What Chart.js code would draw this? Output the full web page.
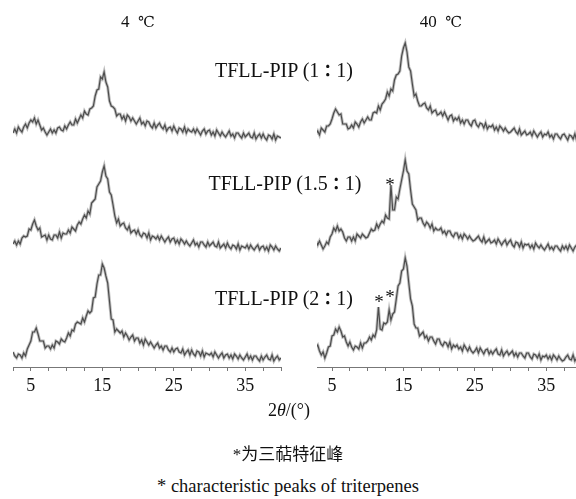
<!DOCTYPE html>
<html>
<head>
<meta charset="utf-8">
<script src="https://cdn.jsdelivr.net/npm/chart.js@4.4.0/dist/chart.umd.min.js"></script>
<style>
  html, body { margin: 0; padding: 0; background: #fff; }
  body { width: 576px; height: 499px; position: relative; overflow: hidden;
         font-family: "Liberation Serif", "DejaVu Serif", "Noto Sans CJK SC", serif; color: #111; }
  canvas { position: absolute; top: 0; }
  .t { position: absolute; transform: translate(-50%, -50%); white-space: nowrap; line-height: 1.15; }
  .deg { font-family: "DejaVu Serif", serif; font-size: 15px; }
  .col { font-family: "Noto Sans CJK JP", "Noto Sans CJK TC", sans-serif; font-weight: bold; font-size: 17px; }
</style>
</head>
<body>
<canvas id="c4" width="292" height="400" style="left:0"></canvas>
<canvas id="c40" width="290" height="400" style="left:305px"></canvas>

<div class="t" style="left:138px;top:22px;font-size:17px">4&nbsp;&nbsp;<span class="deg">℃</span></div>
<div class="t" style="left:441px;top:22px;font-size:17px">40&nbsp;&nbsp;<span class="deg">℃</span></div>
<div class="t" style="left:284px;top:70px;font-size:20px">TFLL-PIP (1<span class="col">：</span>1)</div>
<div class="t" style="left:285px;top:183px;font-size:20px">TFLL-PIP (1.5<span class="col">：</span>1)</div>
<div class="t" style="left:284px;top:298px;font-size:20px">TFLL-PIP (2<span class="col">：</span>1)</div>
<div class="t" style="left:390px;top:185px;font-size:19px">*</div>
<div class="t" style="left:379px;top:302px;font-size:19px">*</div>
<div class="t" style="left:390px;top:297px;font-size:19px">*</div>
<div class="t" style="left:289px;top:410px;font-size:18px">2<i>θ</i>/(°)</div>
<div class="t" style="left:288px;top:455px;font-size:17px">*为三萜特征峰</div>
<div class="t" style="left:288px;top:487px;font-size:18.5px">* characteristic peaks of triterpenes</div>

<script>
// 2θ (°) sampling grid
const twoTheta = [
  2.5,2.75,3,3.25,3.5,3.75,4,4.25,4.5,4.75,
  5,5.25,5.5,5.75,6,6.25,6.5,6.75,7,7.25,
  7.5,7.75,8,8.25,8.5,8.75,9,9.25,9.5,9.75,
  10,10.25,10.5,10.75,11,11.25,11.5,11.75,12,12.25,
  12.5,12.75,13,13.25,13.5,13.75,14,14.25,14.5,14.75,
  15,15.25,15.5,15.75,16,16.25,16.5,16.75,17,17.25,
  17.5,17.75,18,18.25,18.5,18.75,19,19.25,19.5,19.75,
  20,20.25,20.5,20.75,21,21.25,21.5,21.75,22,22.25,
  22.5,22.75,23,23.25,23.5,23.75,24,24.25,24.5,24.75,
  25,25.25,25.5,25.75,26,26.25,26.5,26.75,27,27.25,
  27.5,27.75,28,28.25,28.5,28.75,29,29.25,29.5,29.75,
  30,30.25,30.5,30.75,31,31.25,31.5,31.75,32,32.25,
  32.5,32.75,33,33.25,33.5,33.75,34,34.25,34.5,34.75,
  35,35.25,35.5,35.75,36,36.25,36.5,36.75,37,37.25,
  37.5,37.75,38,38.25,38.5,38.75,39,39.25,39.5,39.75,
  40
];

const tickValues = [2.5,5,7.5,10,12.5,15,17.5,20,22.5,25,27.5,30,32.5,35,37.5,40];
const tickLabels = [5, 15, 25, 35];

// 4 ℃ intensities (a.u.)
const i4_11 = [
  4,8,4,10,7,5,10,13,9,14,
  17,15,19,13,17,12,7,9,5,2,
  5,8,4,7,4,9,10,7,6,11,
  8,12,15,12,12,18,14,18,22,19,
  26,23,22,28,29,31,41,47,48,60,
  58,65,55,50,36,31,30,28,21,23,
  23,18,21,16,22,20,16,19,16,13,
  16,19,13,15,11,16,15,11,9,14,
  9,12,14,10,8,12,6,9,10,6,
  11,7,4,9,8,5,10,4,8,6,
  5,8,4,8,5,2,6,8,3,6,
  7,2,5,1,7,4,1,5,2,0,
  3,6,1,3,-1,4,4,1,-1,4,
  0,2,4,0,-1,4,-2,1,3,-1,
  3,-1,-3,2,1,-2,3,-3,1,0,
  -1
];
const i4_151 = [
  4,7,3,7,4,10,12,11,12,19,
  18,24,28,22,18,20,11,12,13,8,
  13,9,8,13,13,10,16,10,15,14,
  14,18,15,21,19,17,23,26,24,29,
  33,30,37,34,45,47,49,61,64,67,
  76,82,72,69,56,53,43,32,25,29,
  22,24,25,20,18,22,15,17,18,14,
  18,13,11,15,14,10,15,8,12,11,
  9,12,8,12,9,6,9,11,6,9,
  10,5,8,4,9,7,4,7,4,2,
  5,8,3,5,1,6,6,3,1,6,
  2,4,6,2,1,6,0,2,4,0,
  5,1,-1,3,2,-1,4,-2,2,1,
  0,3,-1,3,0,-2,1,3,-2,1,
  2,-2,1,-3,3,1,-2,2,-1,-3,
  0
];
const i4_21 = [
  6,2,0,4,3,0,5,2,9,13,
  17,26,26,30,24,17,17,17,10,12,
  12,9,13,10,17,16,14,19,17,16,
  20,25,22,28,27,34,36,35,34,40,
  36,42,47,45,47,60,61,74,83,83,
  94,90,82,75,57,39,38,26,29,27,
  25,27,21,25,22,18,21,23,17,20,
  20,15,18,13,19,16,13,16,13,10,
  13,15,10,12,8,12,12,8,6,10,
  6,9,10,6,5,9,3,6,8,3,
  8,4,2,7,6,2,7,1,5,4,
  3,5,1,6,3,0,3,5,0,3,
  4,0,3,-1,4,2,-1,3,0,-2,
  1,4,-1,2,-2,2,2,-1,-3,2,
  -2,1,3,-1,-2,3,-3,0,2,-2,
  0
];

// 40 ℃ intensities (a.u.)
const i40_11 = [
  7,3,6,2,9,7,5,11,11,13,
  18,24,28,25,22,23,13,13,13,8,
  9,12,9,15,13,10,15,18,14,17,
  20,17,17,24,25,24,31,27,33,35,
  38,45,41,48,46,57,62,63,66,81,
  89,94,85,70,66,53,41,43,36,31,
  31,33,34,29,27,31,24,26,27,22,
  23,25,21,25,21,17,21,22,16,19,
  17,20,14,17,13,17,17,13,11,16,
  17,12,10,14,13,9,14,8,11,10,
  12,7,10,6,11,9,6,9,6,4,
  5,7,9,5,3,8,2,4,6,2,
  3,5,1,6,3,0,3,5,0,3,
  2,5,0,2,-2,3,3,0,-2,2,
  3,0,-3,2,1,-2,3,-3,1,0,
  -1
];
const i40_151 = [
  4,7,3,7,3,-1,2,6,4,11,
  14,20,17,22,17,19,16,10,7,11,
  11,7,11,7,14,12,10,14,12,10,
  11,15,19,17,18,24,20,24,27,25,
  33,30,29,63,38,38,51,49,59,68,
  77,88,77,74,58,44,41,38,28,30,
  30,25,22,26,24,20,24,17,20,18,
  18,20,15,17,13,17,17,13,11,15,
  15,10,13,9,14,12,9,12,9,7,
  8,10,12,8,6,11,5,7,9,5,
  6,8,4,9,6,3,6,8,3,6,
  8,3,1,6,5,1,6,0,4,3,
  4,0,3,-1,5,2,0,3,0,-2,
  1,4,-1,1,-2,2,2,-1,-3,2,
  -1,2,-2,3,0,-3,1,3,-2,1,
  0
];
const i40_21 = [
  8,11,13,7,3,6,0,5,11,12,
  22,23,29,26,31,27,21,22,16,12,
  16,11,8,12,11,9,15,10,15,15,
  17,21,18,23,21,28,51,29,28,35,
  34,36,48,38,44,46,59,72,75,87,
  89,100,92,75,59,52,34,30,30,22,
  24,26,20,22,17,21,21,17,14,19,
  19,14,12,16,15,11,16,9,13,11,
  13,9,11,7,13,10,7,11,7,5,
  7,10,5,10,7,4,8,9,4,7,
  4,7,9,4,3,8,2,5,7,3,
  5,7,2,5,1,5,5,2,0,5,
  5,1,-1,4,3,0,4,-2,2,1,
  3,-1,2,-2,3,1,-2,2,-1,-3,
  -2,1,3,-1,-2,3,-3,0,2,-2,
  0
];

// vertical stacking of the three patterns (top, middle, bottom)
const stackOffset = [230, 119, 9];

function drawPanel(id, series, xMin, padL, padR) {
  const sets = [];
  series.forEach((s, k) => {
    const shifted = s.map(v => v + stackOffset[k]);
    // soft grey halo like the scanned noisy trace, then the dark line
    sets.push({ data: shifted, borderColor: 'rgba(110,110,110,0.45)', borderWidth: 3, pointRadius: 0, tension: 0 });
    sets.push({ data: shifted, borderColor: 'rgba(25,25,25,0.9)', borderWidth: 1.2, pointRadius: 0, tension: 0 });
  });

  new Chart(document.getElementById(id), {
    type: 'line',
    data: { labels: twoTheta, datasets: sets },
    options: {
      responsive: false,
      animation: false,
      events: [],
      layout: { padding: { left: padL, right: padR, top: 30, bottom: 0 } },
      plugins: { legend: { display: false }, tooltip: { enabled: false } },
      scales: {
        x: {
          type: 'linear',
          min: xMin,
          max: 40,
          afterBuildTicks: s => { s.ticks = tickValues.filter(v => v >= xMin).map(v => ({ value: v })) },
          afterFit: s => { s.height = 33 },
          border: { display: true, color: '#777', width: 1 },
          grid: { drawOnChartArea: false, drawTicks: true, tickLength: 4, color: '#777' },
          ticks: {
            autoSkip: false,
            maxRotation: 0,
            padding: 4,
            color: '#111',
            font: { family: '"Liberation Serif", "Times New Roman", serif', size: 18 },
            callback: v => tickLabels.includes(v) ? String(v) : ''
          }
        },
        y: { display: false, min: 0, max: 337 }
      }
    }
  })
}

drawPanel('c4', [i4_11, i4_151, i4_21], 2.5, 13, 11);
drawPanel('c40', [i40_11, i40_151, i40_21], 2.9, 12, 13);
</script>
</body>
</html>
